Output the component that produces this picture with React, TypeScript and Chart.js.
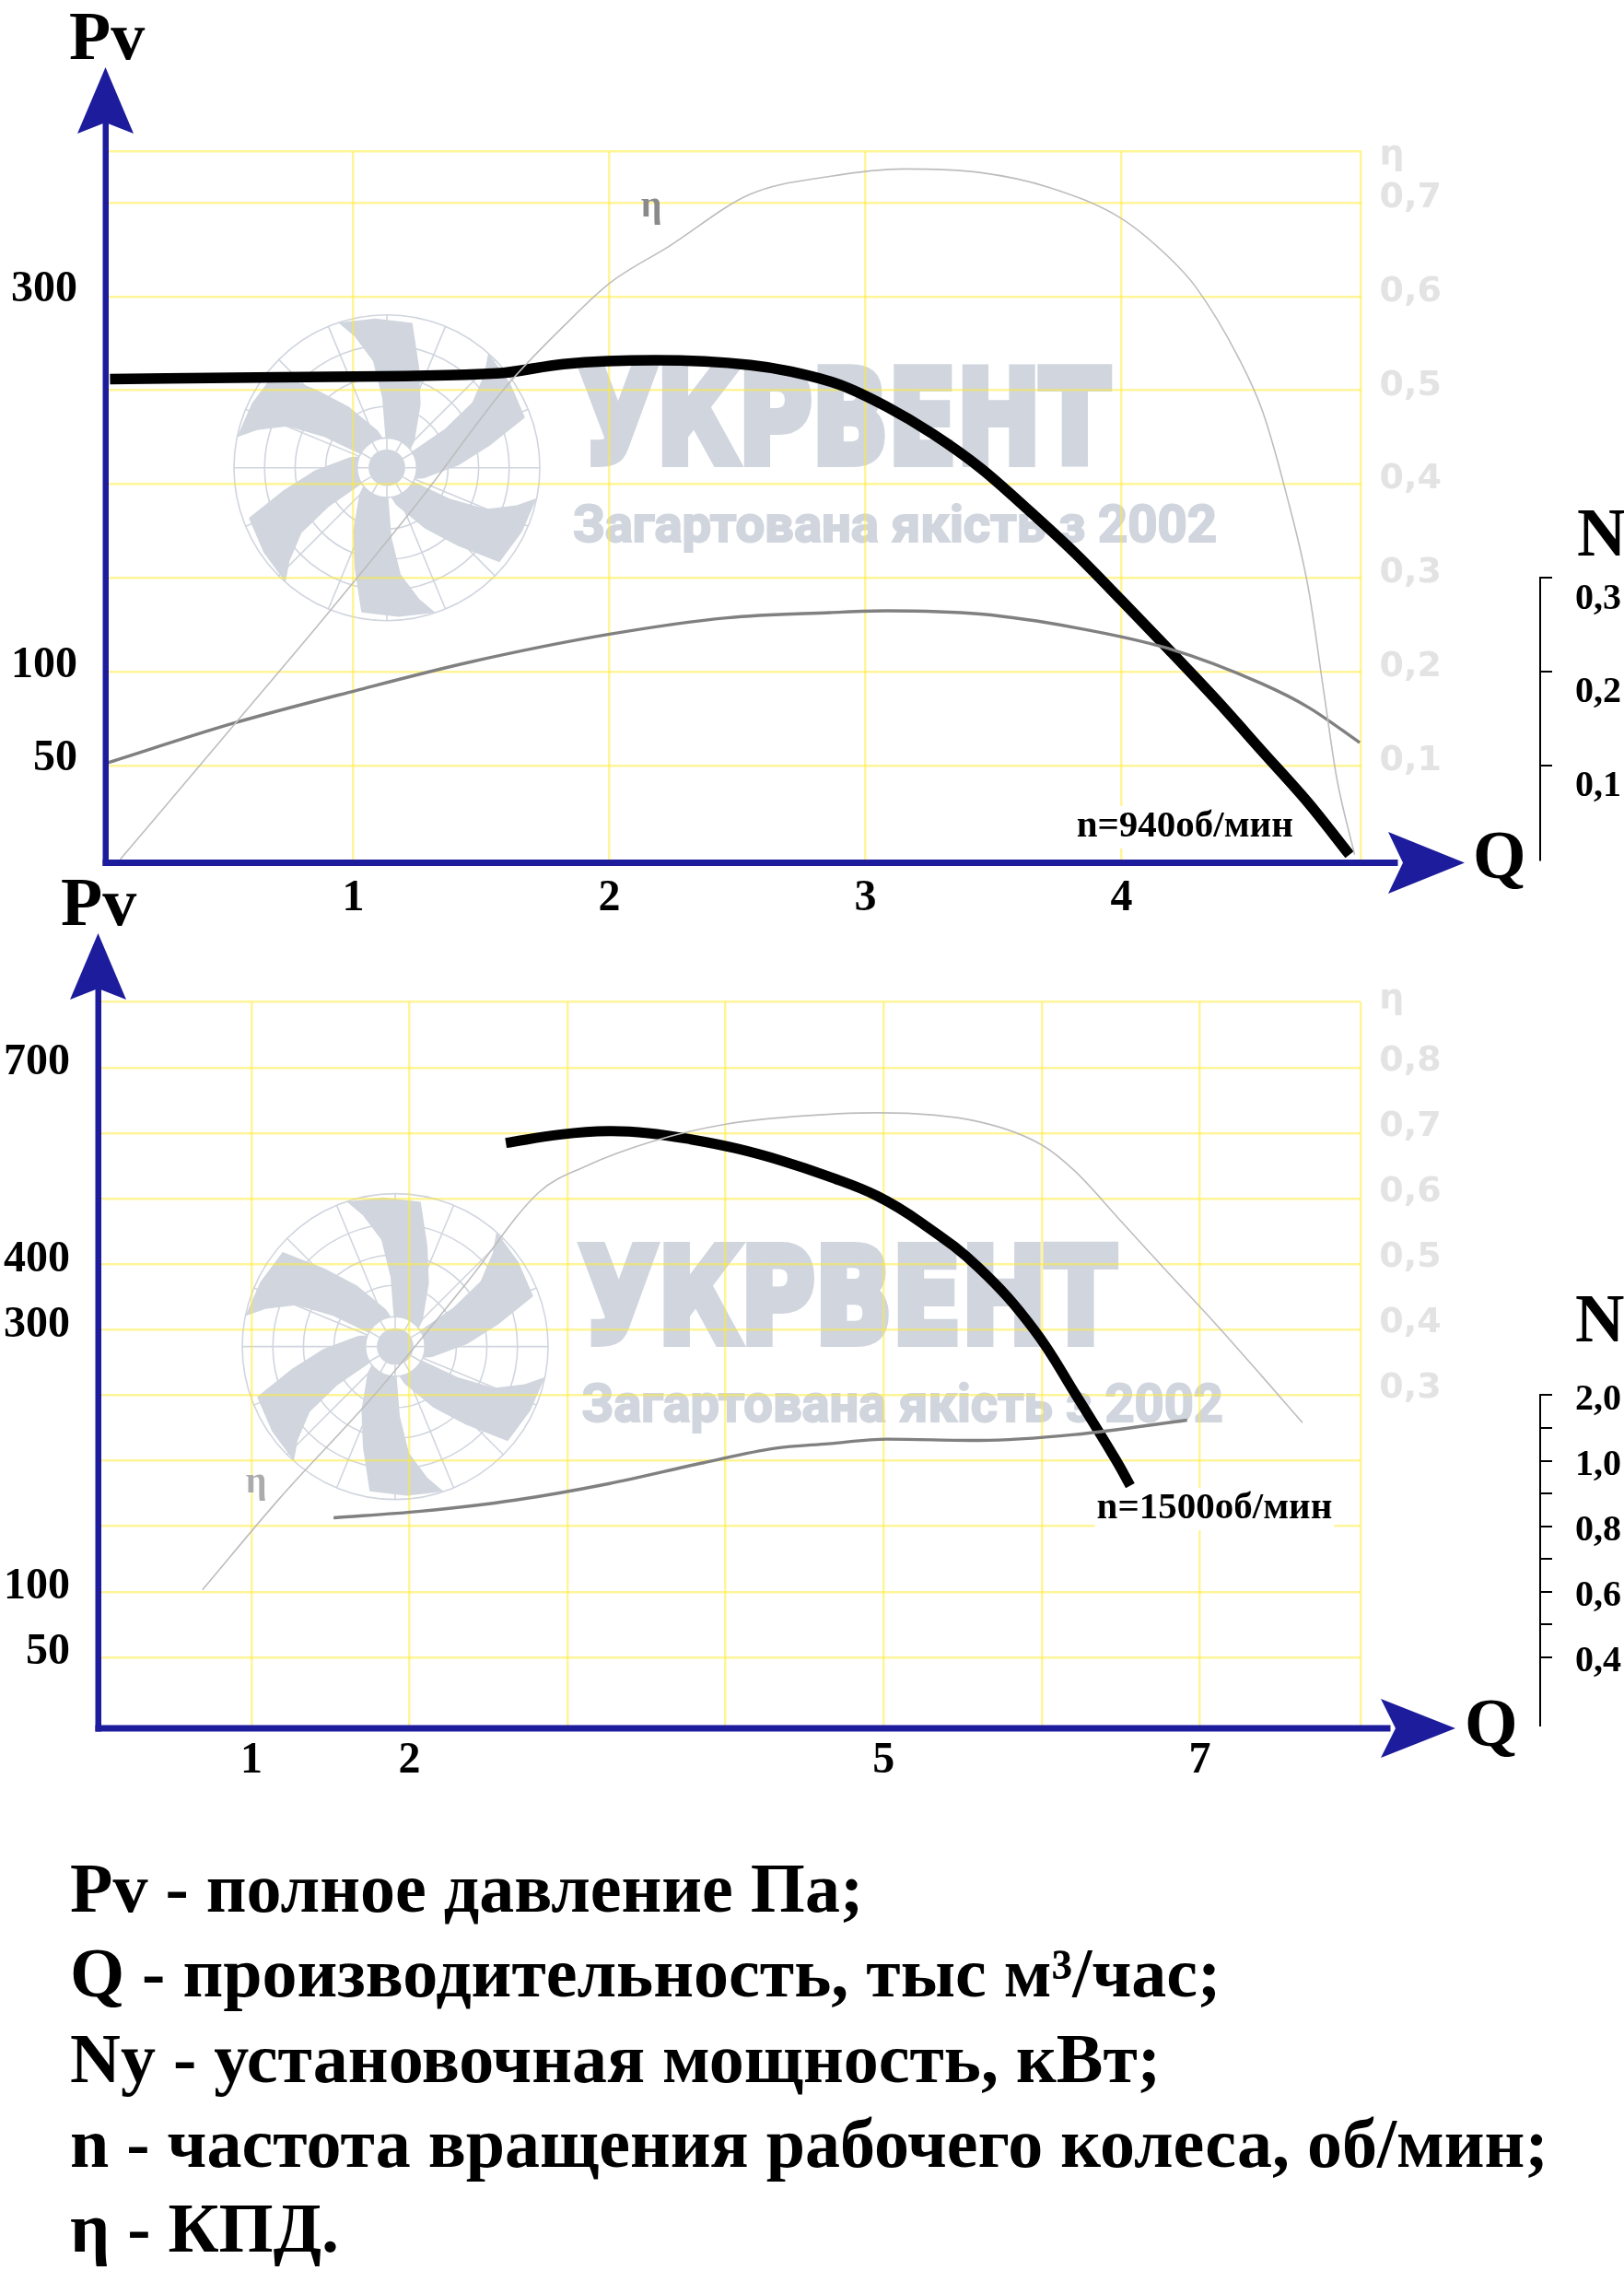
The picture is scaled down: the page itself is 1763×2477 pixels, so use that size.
import { useEffect, useRef } from "react";
import { Chart, LineController, LineElement, PointElement, LinearScale } from "chart.js";
import type { Plugin } from "chart.js";

Chart.register(LineController, LineElement, PointElement, LinearScale);
Chart.defaults.font.family = "'Liberation Serif', 'Times New Roman', serif";

// ---------- chart 1: n = 940 об/мин ----------
const Q1_GRID = [1, 2, 3, 4];
const Q1_LABELS = [1, 2, 3, 4];
const ETA1_GRID = [0.1, 0.2, 0.3, 0.4, 0.5, 0.6, 0.7];
const ETA1_LABELS = [0.1, 0.2, 0.3, 0.4, 0.5, 0.6, 0.7];
const PV1_TICKS = [50, 100, 300];
const PV1_TICK_ETA = [0.1, 0.2, 0.6];
const N1_TICKS = [0.1, 0.2, 0.3];
const N1_TICK_ETA = [0.1, 0.2, 0.3];
const N1_MINOR: number[] = [];

const PV1_Q = [0.05, 0.71, 1.56, 1.82, 2.18, 2.55, 2.71, 2.9, 3.08, 3.26, 3.45, 3.63, 3.82, 4.0, 4.18, 4.37, 4.55, 4.73, 4.89];
const PV1 = [256, 257, 259, 264, 266, 263.5, 260, 253, 241.5, 227, 208.5, 187, 163, 138, 112.5, 85, 57.5, 30, 2.5];

const ETA1_Q = [0.09, 0.53, 0.9, 1.26, 1.6, 1.82, 2.0, 2.23, 2.55, 2.86, 3.15, 3.45, 3.72, 4.0, 4.18, 4.29, 4.46, 4.55, 4.64, 4.73, 4.79, 4.84, 4.91];
const ETA1 = [0, 0.142, 0.262, 0.383, 0.505, 0.568, 0.614, 0.653, 0.709, 0.728, 0.736, 0.732, 0.716, 0.683, 0.643, 0.61, 0.533, 0.478, 0.393, 0.288, 0.178, 0.087, 0.005];

const N1_Q = [0.03, 0.53, 1.01, 1.45, 2.0, 2.46, 2.86, 3.08, 3.45, 3.82, 4.18, 4.55, 4.73, 4.93];
const N1 = [0.102, 0.145, 0.18, 0.21, 0.24, 0.2575, 0.263, 0.265, 0.2615, 0.247, 0.225, 0.187, 0.162, 0.1245];

// ---------- chart 2: n = 1500 об/мин ----------
const Q2_GRID = [1, 2, 3, 4, 5, 6, 7];
const Q2_LABELS = [1, 2, 5, 7];
const ETA2_GRID = [-0.1, 0, 0.1, 0.2, 0.3, 0.4, 0.5, 0.6, 0.7, 0.8];
const ETA2_LABELS = [0.3, 0.4, 0.5, 0.6, 0.7, 0.8];
const PV2_TICKS = [50, 100, 300, 400, 700];
const PV2_TICK_ETA = [-0.1, 0, 0.4, 0.5, 0.8];
const N2_TICKS = [0.4, 0.6, 0.8, 1.0, 2.0];
const N2_TICK_ETA = [-0.1, 0, 0.1, 0.2, 0.3];
const N2_MINOR = [0.5, 0.7, 0.9, 1.5];

const PV2_Q = [2.61, 2.96, 3.26, 3.51, 3.78, 4.07, 4.36, 4.65, 4.96, 5.24, 5.6, 5.95, 6.22, 6.47, 6.56];
const PV2 = [585, 598, 603, 600, 590.5, 576.5, 557.5, 534, 504, 463, 395, 300.5, 249.5, 200.5, 181];

const ETA2_Q = [0.69, 1.18, 1.78, 2.37, 2.82, 3.11, 3.56, 4.01, 4.42, 4.96, 5.61, 6.0, 6.21, 6.5, 6.8, 7.1, 7.39, 7.65];
const ETA2 = [0.003, 0.143, 0.301, 0.474, 0.61, 0.649, 0.689, 0.714, 0.725, 0.731, 0.717, 0.682, 0.642, 0.566, 0.487, 0.409, 0.33, 0.258];

const N2_Q = [1.52, 2.07, 2.67, 3.26, 3.86, 4.31, 4.65, 5.02, 5.61, 6.21, 6.92];
const N2 = [0.826, 0.846, 0.88, 0.93, 0.994, 1.19, 1.26, 1.33, 1.31, 1.4, 1.62];

const LEGEND = [
  "Pv - полное давление Па;",
  "Q - производительность, тыс м³/час;",
  "Ny - установочная мощность, кВт;",
  "n - частота вращения рабочего колеса, об/мин;",
  "η - КПД.",
];

// ---------- styling ----------
const PAGE_W = 1763;
const PAGE_H = 2477;
const AXIS_BLUE = "#1c1c9c";
const GRID = "rgba(255, 236, 50, 0.5)";
const WM = "#d0d5de";
const SERIF = "'Liberation Serif', 'Times New Roman', serif";
const NUM_FONT = { family: SERIF, size: 48, weight: "bold" as const };

// blade outline in polar form (radius fraction, degrees from blade start)
const BLADE = [
  [1, 0], [0.883, 4.7], [0.703, 11.1], [0.457, 14.7], [0.17, 16],
  [0.2, 70], [0.251, 64.5], [0.47, 46.5], [0.69, 36.3], [0.961, 28.5], [0.978, 14],
];

const comma = (v: number) => v.toFixed(1).replace(".", ",");

// value -> plot position through an axis' labelled ticks
function through(ticks: number[], at: number[]) {
  return (v: number) => {
    let i = 0;
    while (i < ticks.length - 2 && v > ticks[i + 1]) i++;
    const t = (v - ticks[i]) / (ticks[i + 1] - ticks[i]);
    return at[i] + t * (at[i + 1] - at[i]);
  };
}

function drawFan(ctx: CanvasRenderingContext2D, cx: number, cy: number, R: number) {
  ctx.save();
  ctx.translate(cx, cy);
  ctx.strokeStyle = WM;
  ctx.lineWidth = 1.6;
  [1, 0.8, 0.6, 0.4].forEach((f) => {
    ctx.beginPath();
    ctx.arc(0, 0, R * f, 0, Math.PI * 2);
    ctx.stroke();
  });
  for (let i = 0; i < 16; i++) {
    const a = (i * Math.PI) / 8;
    ctx.beginPath();
    ctx.moveTo(Math.cos(a) * R * 0.19, Math.sin(a) * R * 0.19);
    ctx.lineTo(Math.cos(a) * R, Math.sin(a) * R);
    ctx.stroke();
  }
  ctx.fillStyle = WM;
  for (let k = 0; k < 6; k++) {
    const phi = ((-108.5 + 60 * k) * Math.PI) / 180;
    ctx.beginPath();
    BLADE.forEach(([r, d], i) => {
      const a = phi + (d * Math.PI) / 180;
      const x = Math.cos(a) * r * R;
      const y = Math.sin(a) * r * R;
      if (i) ctx.lineTo(x, y);
      else ctx.moveTo(x, y);
    });
    ctx.closePath();
    ctx.fill();
  }
  ctx.fillStyle = "#fff";
  ctx.beginPath();
  ctx.arc(0, 0, R * 0.195, 0, Math.PI * 2);
  ctx.fill();
  ctx.stroke();
  for (let i = 0; i < 12; i++) {
    const a = (i * Math.PI) / 6;
    ctx.beginPath();
    ctx.moveTo(Math.cos(a) * R * 0.12, Math.sin(a) * R * 0.12);
    ctx.lineTo(Math.cos(a) * R * 0.195, Math.sin(a) * R * 0.195);
    ctx.stroke();
  }
  ctx.fillStyle = WM;
  ctx.beginPath();
  ctx.arc(0, 0, R * 0.12, 0, Math.PI * 2);
  ctx.fill();
  ctx.restore();
}

// heavy watermark text, squeezed to the given span; `bold` thickens the glyphs
function fitText(ctx: CanvasRenderingContext2D, text: string, font: string, left: number, right: number, base: number, bold: number) {
  ctx.save();
  ctx.font = font;
  ctx.textBaseline = "alphabetic";
  ctx.textAlign = "left";
  const w = ctx.measureText(text).width;
  const sx = (right - left - bold) / w;
  ctx.translate(left + (bold * sx) / 2, base - bold / 2);
  ctx.scale(sx, 1);
  ctx.fillStyle = WM;
  ctx.strokeStyle = WM;
  ctx.lineJoin = "miter";
  ctx.lineWidth = bold;
  ctx.fillText(text, 0, 0);
  if (bold > 0) ctx.strokeText(text, 0, 0);
  ctx.restore();
}

interface Curve { q: number[]; v: number[] }
interface Mark { cx: number; cy: number; r: number; bl: number; br: number; bb: number; bcap: number; tl: number; tr: number; tb: number; tcap: number }
interface FanChartProps {
  top: number; height: number;
  left: number; areaTop: number; areaBottom: number; etaW: number; nW: number;
  qMin: number; qMax: number; qGrid: number[]; qLabels: number[]; qPad: number;
  etaMin: number; etaMax: number; etaGrid: number[]; etaLabels: number[]; etaMark: number; etaOffset: number;
  pvTicks: number[]; pvAt: number[]; pvOffset: number;
  nTicks: number[]; nAt: number[]; nMinor: number[]; nOffset: number;
  pv: Curve; eta: Curve; n: Curve; pvWidth: number; pvSmooth: boolean;
  speed: { text: string; q: number; eta: number };
  note: { q: number; eta: number; color: string };
  mark: Mark;
  yTip: number; xBase: number; xTip: number; xHalf: number;
}

function FanChart(p: FanChartProps) {
  const ref = useRef<HTMLCanvasElement>(null);

  useEffect(() => {
    if (!ref.current) return;
    const pvMap = through(p.pvTicks, p.pvAt);
    const nMap = through(p.nTicks, p.nAt);
    const pts = (c: Curve, f: (v: number) => number = (v) => v) => c.q.map((q, i) => ({ x: q, y: f(c.v[i]) }));
    const nTickVals = [...p.nAt, ...p.nMinor.map(nMap)];

    const decor: Plugin<"line"> = {
      id: "decor",
      beforeDraw(chart) {
        const ctx = chart.ctx;
        const m = p.mark;
        drawFan(ctx, m.cx, m.cy, m.r);
        fitText(ctx, "УКРВЕНТ", `bold ${(m.bcap - 10) / 0.729}px 'DejaVu Sans'`, m.bl, m.br, m.bb, 10);
        fitText(ctx, "Загартована якість з 2002", `bold ${(m.tcap - 2) / 0.711}px Roboto`, m.tl, m.tr, m.tb, 2);
      },
      afterDatasetsDraw(chart) {
        const ctx = chart.ctx;
        const sx = chart.scales.x;
        const sy = chart.scales.eta;
        ctx.save();
        ctx.font = `bold 41px ${SERIF}`;
        ctx.textAlign = "left";
        ctx.textBaseline = "alphabetic";
        const x = sx.getPixelForValue(p.speed.q);
        const y = sy.getPixelForValue(p.speed.eta);
        const w = ctx.measureText(p.speed.text).width;
        ctx.fillStyle = "#fff";
        ctx.fillRect(x - 2, y - 33, w + 4, 46);
        ctx.fillStyle = "#000";
        ctx.fillText(p.speed.text, x, y);
        ctx.font = `bold 40px ${SERIF}`;
        ctx.textAlign = "center";
        ctx.textBaseline = "middle";
        ctx.fillStyle = p.note.color;
        ctx.fillText("η", sx.getPixelForValue(p.note.q), sy.getPixelForValue(p.note.eta));
        ctx.restore();
      },
      afterDraw(chart) {
        const ctx = chart.ctx;
        const { left, bottom } = chart.chartArea;
        ctx.save();
        ctx.fillStyle = AXIS_BLUE;
        const yLen = 72;
        ctx.fillRect(left - 3.5, p.yTip + yLen - 14, 6.5, bottom - p.yTip - yLen + 17.5);
        ctx.fillRect(left - 3.5, bottom - 3.5, p.xBase + 14 - left, 7);
        ctx.beginPath();
        ctx.moveTo(left - 0.5, p.yTip);
        ctx.lineTo(left + 30, p.yTip + yLen);
        ctx.lineTo(left - 0.5, p.yTip + yLen - 12);
        ctx.lineTo(left - 31, p.yTip + yLen);
        ctx.closePath();
        ctx.fill();
        ctx.beginPath();
        ctx.moveTo(p.xTip, bottom);
        ctx.lineTo(p.xBase, bottom - p.xHalf);
        ctx.lineTo(p.xBase + 16, bottom);
        ctx.lineTo(p.xBase, bottom + p.xHalf);
        ctx.closePath();
        ctx.fill();
        // N bracket
        const ns = chart.scales.n;
        ctx.strokeStyle = "#000";
        ctx.lineWidth = 2;
        ctx.beginPath();
        ctx.moveTo(ns.left + 1, ns.getPixelForValue(Math.max(...p.nAt)) - 1);
        ctx.lineTo(ns.left + 1, bottom - 2);
        ctx.stroke();
        ctx.restore();
      },
    };

    const chart = new Chart(ref.current, {
      type: "line",
      data: {
        datasets: [
          { label: "η", data: pts(p.eta), borderColor: "#bdbdbd", borderWidth: 1.6, yAxisID: "eta" },
          { label: "N", data: pts(p.n, nMap), borderColor: "#808080", borderWidth: 3.4, yAxisID: "eta" },
          {
            label: "Pv",
            data: pts(p.pv, pvMap),
            borderColor: "#000",
            borderWidth: p.pvWidth,
            borderCapStyle: "butt",
            yAxisID: "eta",
            cubicInterpolationMode: p.pvSmooth ? "default" : "monotone",
            tension: 0.4,
          },
        ],
      },
      options: {
        responsive: false,
        animation: false,
        events: [],
        layout: { padding: { top: p.areaTop, left: 0, right: 0, bottom: 0 } },
        elements: {
          point: { radius: 0 },
          line: { cubicInterpolationMode: "monotone", fill: false },
        },
        plugins: { legend: { display: false }, tooltip: { enabled: false } },
        scales: {
          x: {
            type: "linear",
            position: "bottom",
            min: p.qMin,
            max: p.qMax,
            afterBuildTicks: (s) => { s.ticks = [...p.qGrid, p.qMax].map((value) => ({ value })); },
            afterFit: (s) => { s.height = p.height - p.areaBottom; },
            grid: { color: GRID, lineWidth: 2.5, drawTicks: false },
            border: { display: false },
            ticks: {
              autoSkip: false, maxRotation: 0, minRotation: 0, padding: p.qPad, color: "#000", font: NUM_FONT,
              callback: (v) => (p.qLabels.includes(Number(v)) ? String(v) : ""),
            },
          },
          pv: {
            type: "linear",
            axis: "y",
            position: "left",
            min: p.etaMin,
            max: p.etaMax,
            afterBuildTicks: (s) => { s.ticks = p.pvAt.map((value) => ({ value })); },
            afterFit: (s) => { s.width = p.left; },
            grid: { display: false },
            border: { display: false },
            ticks: {
              autoSkip: false, padding: 23, labelOffset: p.pvOffset, color: "#000", font: NUM_FONT,
              callback: (v) => { const i = p.pvAt.indexOf(Number(v)); return i >= 0 ? String(p.pvTicks[i]) : ""; },
            },
          },
          eta: {
            type: "linear",
            axis: "y",
            position: "right",
            weight: 0,
            min: p.etaMin,
            max: p.etaMax,
            afterBuildTicks: (s) => { s.ticks = [...p.etaGrid, p.etaMark, p.etaMax].map((value) => ({ value })); },
            afterFit: (s) => { s.width = p.etaW; },
            grid: {
              color: (c) => (c.tick && c.tick.value === p.etaMark ? "rgba(0,0,0,0)" : GRID),
              lineWidth: 2.5,
              drawTicks: false,
            },
            border: { display: false },
            ticks: {
              autoSkip: false, padding: 20, labelOffset: p.etaOffset, color: "#e3e3e3",
              font: { family: "'DejaVu Sans', Verdana, sans-serif", size: 38, weight: "bold" },
              callback: (v) => {
                const n = Number(v);
                if (n === p.etaMark) return "η";
                return p.etaLabels.includes(n) ? comma(n) : "";
              },
            },
          },
          n: {
            type: "linear",
            axis: "y",
            position: "right",
            weight: 1,
            min: p.etaMin,
            max: p.etaMax,
            afterBuildTicks: (s) => { s.ticks = nTickVals.map((value) => ({ value })); },
            afterFit: (s) => { s.width = p.nW; },
            grid: { drawOnChartArea: false, drawTicks: true, tickLength: 14, color: "#000", lineWidth: 2 },
            border: { display: false },
            ticks: {
              autoSkip: false, padding: 25, labelOffset: p.nOffset, color: "#000",
              font: { family: SERIF, size: 40, weight: "bold" },
              callback: (v) => { const i = p.nAt.indexOf(Number(v)); return i >= 0 ? comma(p.nTicks[i]) : ""; },
            },
          },
        },
      },
      plugins: [decor],
    });
    return () => chart.destroy();
  }, []);

  return (
    <canvas
      ref={ref}
      width={PAGE_W}
      height={p.height}
      style={{ position: "absolute", left: 0, top: p.top }}
      role="img"
      aria-label="Аэродинамическая характеристика вентилятора"
    />
  );
}

const CHART1: FanChartProps = {
  top: 0, height: 1000,
  left: 115, areaTop: 164.5, areaBottom: 936.5, etaW: 193.5, nW: 92,
  qMin: 0.034, qMax: 4.935, qGrid: Q1_GRID, qLabels: Q1_LABELS, qPad: 10,
  etaMin: -0.0036, etaMax: 0.7545, etaGrid: ETA1_GRID, etaLabels: ETA1_LABELS, etaMark: 0.7457, etaOffset: -5,
  pvTicks: PV1_TICKS, pvAt: PV1_TICK_ETA, pvOffset: -7,
  nTicks: N1_TICKS, nAt: N1_TICK_ETA, nMinor: N1_MINOR, nOffset: 23,
  pv: { q: PV1_Q, v: PV1 }, eta: { q: ETA1_Q, v: ETA1 }, n: { q: N1_Q, v: N1 }, pvWidth: 11.5, pvSmooth: false,
  speed: { text: "n=940об/мин", q: 3.824, eta: 0.0244 },
  note: { q: 2.164, eta: 0.695, color: "#8a8a8a" },
  mark: { cx: 420, cy: 507.7, r: 166, bl: 625, br: 1210, bb: 507, bcap: 112, tl: 621, tr: 1322, tb: 589, tcap: 41 },
  yTip: 73, xBase: 1507, xTip: 1590, xHalf: 33.5,
};

const CHART2: FanChartProps = {
  top: 990, height: 970,
  left: 107, areaTop: 97.7, areaBottom: 886, etaW: 193.7, nW: 92,
  qMin: 0.033, qMax: 8.019, qGrid: Q2_GRID, qLabels: Q2_LABELS, qPad: 7,
  etaMin: -0.2083, etaMax: 0.9, etaGrid: ETA2_GRID, etaLabels: ETA2_LABELS, etaMark: 0.895, etaOffset: -7,
  pvTicks: PV2_TICKS, pvAt: PV2_TICK_ETA, pvOffset: -5,
  nTicks: N2_TICKS, nAt: N2_TICK_ETA, nMinor: N2_MINOR, nOffset: 5,
  pv: { q: PV2_Q, v: PV2 }, eta: { q: ETA2_Q, v: ETA2 }, n: { q: N2_Q, v: N2 }, pvWidth: 11, pvSmooth: true,
  speed: { text: "n=1500об/мин", q: 6.348, eta: 0.112 },
  note: { q: 1.03, eta: 0.1657, color: "#ababab" },
  mark: { cx: 429, cy: 471.6, r: 166, bl: 625.5, br: 1217, bb: 471.6, bcap: 113.6, tl: 630.6, tr: 1329, tb: 554, tcap: 43 },
  yTip: 23, xBase: 1499, xTip: 1580, xHalf: 32,
};

function Title({ text, left, base }: { text: string; left: number; base: number }) {
  return (
    <div
      style={{
        position: "absolute", left, top: base - 0.8375 * 74, margin: 0,
        font: `bold 74px ${SERIF}`, lineHeight: 1, color: "#000", whiteSpace: "nowrap",
      }}
    >
      {text}
    </div>
  );
}

export default function App() {
  return (
    <div style={{ position: "absolute", left: 0, top: 0, width: PAGE_W, height: PAGE_H, background: "#fff", overflow: "hidden" }}>
      <FanChart {...CHART1} />
      <FanChart {...CHART2} />
      <Title text="Pv" left={75} base={64} />
      <Title text="Q" left={1599} base={953} />
      <Title text="N" left={1712} base={603} />
      <Title text="Pv" left={66} base={1004} />
      <Title text="Q" left={1590} base={1895} />
      <Title text="N" left={1710} base={1456} />
      <div
        style={{
          position: "absolute", left: 76, top: 2003.2, font: `bold 76px ${SERIF}`,
          lineHeight: "92.3px", color: "#000", whiteSpace: "nowrap",
        }}
      >
        {LEGEND.map((line) => (
          <div key={line}>{line}</div>
        ))}
      </div>
    </div>
  );
}
